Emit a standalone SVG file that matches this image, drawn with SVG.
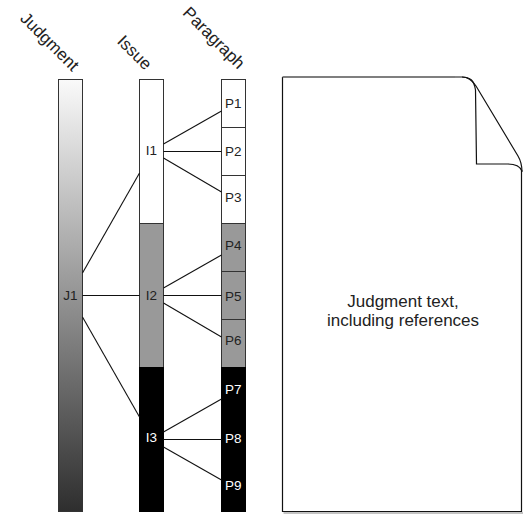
<svg xmlns="http://www.w3.org/2000/svg" width="523" height="518" viewBox="0 0 523 518">
<defs>
<linearGradient id="jg" x1="0" y1="0" x2="0" y2="1">
<stop offset="0" stop-color="#fafafa"/>
<stop offset="1" stop-color="#2e2e2e"/>
</linearGradient>
<style>
.bar{stroke:#333;stroke-width:1}
.blk{stroke:#000;stroke-width:1}
.lbl{font-family:"Liberation Sans",Arial,sans-serif;font-size:13.5px;fill:#222}
.lblw{font-family:"Liberation Sans",Arial,sans-serif;font-size:13.5px;fill:#fff}
.hdr{font-family:"Liberation Sans",Arial,sans-serif;font-size:17px;fill:#222}
.doc{font-family:"Liberation Sans",Arial,sans-serif;font-size:17px;fill:#222}
.con{stroke:#111;stroke-width:1.1;fill:none}
</style>
</defs>
<rect width="523" height="518" fill="#fff"/>
<g id="headers">
<text class="hdr" text-anchor="end" transform="translate(72,72) rotate(45)">Judgment</text>
<text class="hdr" text-anchor="end" transform="translate(145,71) rotate(45)">Issue</text>
<text class="hdr" text-anchor="end" transform="translate(238,70) rotate(45)">Paragraph</text>
</g>
<g id="J1">
<rect class="bar" x="58.5" y="79.5" width="24" height="432" fill="url(#jg)"/>
<text class="lbl" x="70.5" y="300" text-anchor="middle">J1</text>
</g>
<g id="I1">
<rect class="bar" x="139.5" y="79.5" width="24" height="144" fill="#fff"/>
<text class="lbl" x="151.5" y="155" text-anchor="middle">I1</text>
</g>
<g id="I2">
<rect class="bar" x="139.5" y="223.5" width="24" height="144" fill="#999"/>
<text class="lbl" x="151.5" y="300" text-anchor="middle">I2</text>
</g>
<g id="I3">
<rect class="blk" x="139.5" y="367.5" width="24" height="144" fill="#000"/>
<text class="lblw" x="151.5" y="442" text-anchor="middle">I3</text>
</g>
<g id="P1"><rect class="bar" x="221.5" y="79.5" width="24" height="48" fill="#fff"/><text class="lbl" x="225" y="108">P1</text></g>
<g id="P2"><rect class="bar" x="221.5" y="127.5" width="24" height="48" fill="#fff"/><text class="lbl" x="225" y="156">P2</text></g>
<g id="P3"><rect class="bar" x="221.5" y="175.5" width="24" height="48" fill="#fff"/><text class="lbl" x="225" y="202">P3</text></g>
<g id="P4"><rect class="bar" x="221.5" y="223.5" width="24" height="48" fill="#999"/><text class="lbl" x="225" y="250">P4</text></g>
<g id="P5"><rect class="bar" x="221.5" y="271.5" width="24" height="48" fill="#999"/><text class="lbl" x="225" y="301">P5</text></g>
<g id="P6"><rect class="bar" x="221.5" y="319.5" width="24" height="48" fill="#999"/><text class="lbl" x="225" y="345">P6</text></g>
<g id="P7"><rect class="blk" x="221.5" y="367.5" width="24" height="48" fill="#000"/><text class="lblw" x="225" y="394">P7</text></g>
<g id="P8"><rect class="blk" x="221.5" y="415.5" width="24" height="48" fill="#000"/><text class="lblw" x="225" y="443">P8</text></g>
<g id="P9"><rect class="blk" x="221.5" y="463.5" width="24" height="48" fill="#000"/><text class="lblw" x="225" y="490">P9</text></g>
<g id="connectors">
<line class="con" x1="82.5" y1="273" x2="139.5" y2="173"/>
<line class="con" x1="82.5" y1="295.5" x2="139.5" y2="295.5"/>
<line class="con" x1="82.5" y1="317" x2="139.5" y2="417"/>
<line class="con" x1="163.5" y1="144" x2="221.5" y2="111"/>
<line class="con" x1="163.5" y1="151.5" x2="221.5" y2="151.5"/>
<line class="con" x1="163.5" y1="158" x2="221.5" y2="192"/>
<line class="con" x1="163.5" y1="288" x2="221.5" y2="255"/>
<line class="con" x1="163.5" y1="295.5" x2="221.5" y2="295.5"/>
<line class="con" x1="163.5" y1="303" x2="221.5" y2="337"/>
<line class="con" x1="163.5" y1="432" x2="221.5" y2="399"/>
<line class="con" x1="163.5" y1="439.5" x2="221.5" y2="439.5"/>
<line class="con" x1="163.5" y1="447" x2="221.5" y2="480"/>
</g>
<g id="document">
<path d="M283.5,513 L523,513" stroke="#888" stroke-width="1.2" fill="none"/>
<path d="M282.5,77 L282.5,511.5 L521.5,511.5 L521.5,170" stroke="#111" stroke-width="1.2" fill="none"/>
<path d="M282.5,77 L455,77" stroke="#555" stroke-width="1.6" fill="none"/>
<path d="M455,77 L462,77 C468,77 472,80 476,86 L518,156 C521,161 522,166 522,172" stroke="#111" stroke-width="1.2" fill="none"/>
<path d="M462,77 C470,77 474,80 475.5,90 L476.5,164 L508,164 C516,164 520,166 522,171" stroke="#111" stroke-width="1.2" fill="none"/>
<text class="doc" x="403" y="307" text-anchor="middle">Judgment text,</text>
<text class="doc" x="403" y="326" text-anchor="middle">including references</text>
</g>
</svg>
